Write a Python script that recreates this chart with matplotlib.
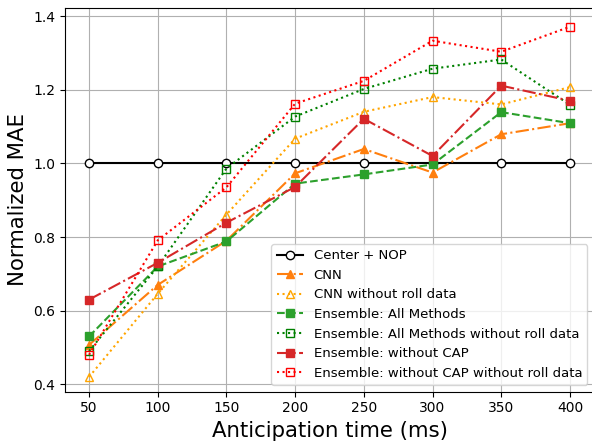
import matplotlib
matplotlib.use("Agg")
import matplotlib.pyplot as plt

times = [50, 100, 150, 200, 250, 300, 350, 400]
center_nop = [1.0, 1.0, 1.0, 1.0, 1.0, 1.0, 1.0, 1.0]
cnn = [0.507, 0.67, 0.79, 0.973, 1.039, 0.975, 1.079, 1.109]
cnn_noroll = [0.42, 0.646, 0.861, 1.067, 1.14, 1.18, 1.16, 1.207]
ens_all = [0.53, 0.72, 0.788, 0.945, 0.97, 0.997, 1.139, 1.109]
ens_all_noroll = [0.49, 0.72, 0.986, 1.127, 1.202, 1.257, 1.282, 1.159]
ens_nocap = [0.63, 0.73, 0.839, 0.936, 1.121, 1.02, 1.211, 1.17]
ens_nocap_noroll = [0.48, 0.791, 0.935, 1.162, 1.224, 1.333, 1.303, 1.371]

fig = plt.figure(figsize=(5.92, 4.41), dpi=100)
ax = fig.add_axes([65/592, 1 - 391.7/441, (594 - 65)/592, (391.7 - 8.3)/441])

ms = 6
ax.plot(times, center_nop, '-', color='black', marker='o', markerfacecolor='white',
        markeredgecolor='black', markersize=ms, linewidth=1.5, label='Center + NOP')
ax.plot(times, cnn, '-.', color='tab:orange', marker='^', markersize=ms,
        linewidth=1.5, label='CNN')
ax.plot(times, cnn_noroll, ':', color='orange', marker='^', markerfacecolor='none',
        markersize=ms, linewidth=1.5, label='CNN without roll data')
ax.plot(times, ens_all, '--', color='tab:green', marker='s', markersize=ms,
        linewidth=1.5, label='Ensemble: All Methods')
ax.plot(times, ens_all_noroll, ':', color='green', marker='s', markerfacecolor='none',
        markersize=ms, linewidth=1.5, label='Ensemble: All Methods without roll data')
ax.plot(times, ens_nocap, '-.', color='tab:red', marker='s', markersize=ms,
        linewidth=1.5, label='Ensemble: without CAP')
ax.plot(times, ens_nocap_noroll, ':', color='red', marker='s', markerfacecolor='none',
        markersize=ms, linewidth=1.5, label='Ensemble: without CAP without roll data')

ax.set_xlim(32.5, 417.5)
ax.set_ylim(0.38, 1.421)
ax.set_xticks(times)
ax.set_yticks([0.4, 0.6, 0.8, 1.0, 1.2, 1.4])
ax.grid(True)
ax.tick_params(labelsize=10)
ax.set_xlabel('Anticipation time (ms)', fontsize=15.3)
ax.set_ylabel('Normalized MAE', fontsize=15.3)
ax.legend(loc='lower right', fontsize=9.5)

fig.savefig('out.png', dpi=100)
